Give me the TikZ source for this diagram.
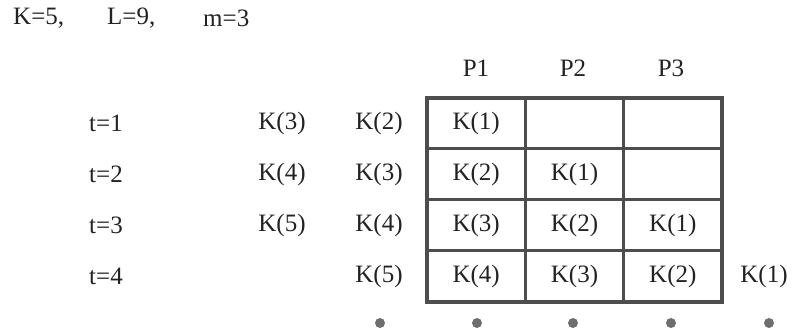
\documentclass[tikz,border=0pt]{standalone}
\usepackage{fontspec}
\setmainfont{Liberation Serif}
\usetikzlibrary{positioning}
\definecolor{gridGray}{HTML}{4D4D4D}
\definecolor{dotGray}{HTML}{6E6E6E}
\definecolor{inkBlack}{HTML}{222222}

\begin{document}
\begin{tikzpicture}[
    x=1pt, y=1pt,
    every node/.style={text=inkBlack, font=\fontsize{25}{28}\selectfont},
    cellbox/.style={rectangle, draw=gridGray, line width=3pt, minimum width=98.3pt, minimum height=51pt, inner sep=0pt, outer sep=0pt},
    keytext/.style={inner sep=0pt},
    dotmark/.style={circle, fill=dotGray, minimum size=10pt, inner sep=0pt}
]
\useasboundingbox (0,0) rectangle (796,334);

% parameters
\node[keytext, anchor=west] (pk) at (13,316) {K=5,};
\node[keytext, anchor=west] (pl) at (107,316) {L=9,};
\node[keytext, anchor=west] (pm) at (203,316) {m=3};

% grid of processors
\node[cellbox] (c11) at (476.2,210.5) {K(1)};
\node[cellbox, right=0pt of c11] (c12) {};
\node[cellbox, right=0pt of c12] (c13) {};
\node[cellbox, below=0pt of c11] (c21) {K(2)};
\node[cellbox, right=0pt of c21] (c22) {K(1)};
\node[cellbox, right=0pt of c22] (c23) {};
\node[cellbox, below=0pt of c21] (c31) {K(3)};
\node[cellbox, right=0pt of c31] (c32) {K(2)};
\node[cellbox, right=0pt of c32] (c33) {K(1)};
\node[cellbox, below=0pt of c31] (c41) {K(4)};
\node[cellbox, right=0pt of c41] (c42) {K(3)};
\node[cellbox, right=0pt of c42] (c43) {K(2)};
\draw[gridGray, line width=4pt] (c11.north west) rectangle (c43.south east);

% headers
\node[keytext] (p1) at (476,266) {P1};
\node[keytext] (p2) at (573,266) {P2};
\node[keytext] (p3) at (671,266) {P3};

% time steps
\node[keytext] (t1) at (106,210.5) {t=1};
\node[keytext] (t2) at (106,159.5) {t=2};
\node[keytext] (t3) at (106,108.5) {t=3};
\node[keytext] (t4) at (106,57.5) {t=4};

% waiting keys
\node[keytext] (w13) at (282,210.5) {K(3)};
\node[keytext] (w12) at (379,210.5) {K(2)};
\node[keytext] (w24) at (282,159.5) {K(4)};
\node[keytext] (w23) at (379,159.5) {K(3)};
\node[keytext] (w35) at (282,108.5) {K(5)};
\node[keytext] (w34) at (379,108.5) {K(4)};
\node[keytext] (w45) at (379,57.5) {K(5)};
\node[keytext] (o41) at (764,57.5) {K(1)};

% continuation dots
\node[dotmark] (d1) at (380,11) {};
\node[dotmark] (d2) at (477,11) {};
\node[dotmark] (d3) at (573,11) {};
\node[dotmark] (d4) at (671,11) {};
\node[dotmark] (d5) at (769,11) {};

\end{tikzpicture}
\end{document}
